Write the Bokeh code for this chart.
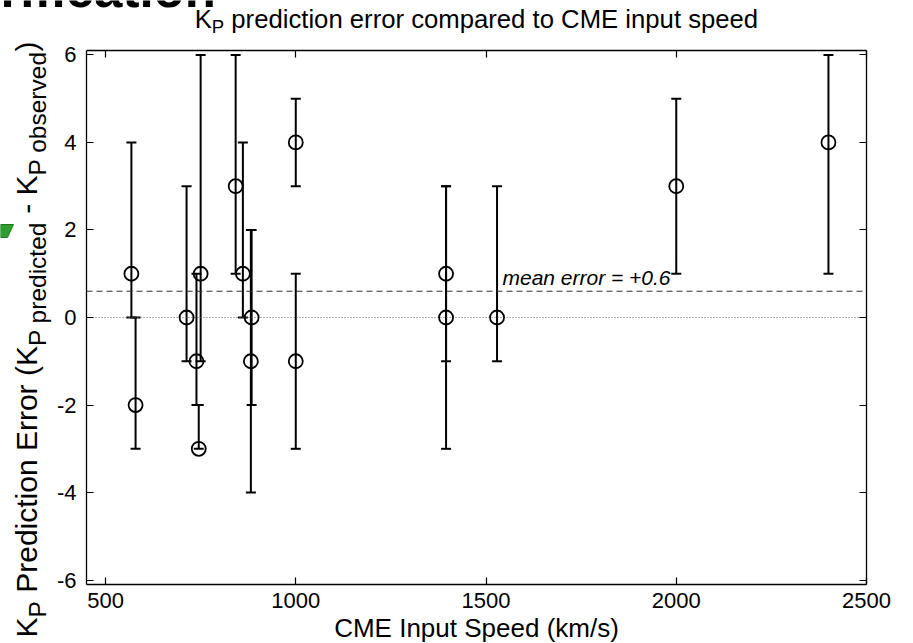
from bokeh.plotting import figure
from bokeh.models import (ColumnDataSource, Whisker, TeeHead, Label,
                          LinearAxis, FixedTicker, Range1d)
from bokeh.embed import file_html
from bokeh.resources import INLINE
from math import pi

# ---------------- data ----------------
speed = [568, 579, 713, 739, 745, 750, 842, 861, 882, 884, 1000, 1000,
         1395, 1395, 1529, 2000, 2400]
kp_error = [1, -2, 0, -1, -3, 1, 3, 1, -1, 0, 4, -1, 1, 0, 0, 3, 4]
err_low = [0, -3, -1, -2, -3, -1, 1, 0, -4, -2, 3, -3, -1, -3, -1, 1, 1]
err_high = [4, 0, 3, 1, -2, 6, 6, 4, 2, 2, 5, 1, 3, 3, 3, 5, 6]
mean_error = 0.6
mean_label = "mean error = +0.6"
mean_label_x = 1985
x_ticks = [500, 1000, 1500, 2000, 2500]
y_ticks = [-6, -4, -2, 0, 2, 4, 6]
X_MIN, X_MAX = 450, 2500
Y_MIN, Y_MAX = -6.1, 6.1
title_parts = [("K", 0), ("P", 1), (" prediction error compared to CME input speed", 0)]
ylabel_parts = [("K", 0), ("P", 1), (" Prediction Error (K", 0), ("P predicted", 1),
                (" - K", 0), ("P observed", 1), (")", 0)]
xlabel = "CME Input Speed (km/s)"
slide_text = "rification"

# ---------------- layout (pixels) ----------------
W, H = 913, 643
BOX_L, BOX_R, BOX_T, BOX_B = 86, 866, 50, 584
FONT = "Liberation Sans"
BASE_SHIFT = 0.38   # label anchor sits this fraction of the font size above the baseline

kx = (BOX_R - BOX_L) / (X_MAX - X_MIN)
ky = (BOX_B - BOX_T) / (Y_MAX - Y_MIN)
x_start = X_MIN - BOX_L / kx
x_end = X_MAX + (W - BOX_R) / kx
y_end = Y_MAX + BOX_T / ky
y_start = Y_MIN - (H - BOX_B) / ky


def dx(px):
    return x_start + px / kx


def dy(py):
    return y_end - py / ky


HW = {' ': 278, '(': 333, ')': 333, '-': 333, '.': 278, '/': 278, '=': 584, '+': 584,
      'A': 667, 'C': 722, 'E': 667, 'I': 278, 'K': 667, 'M': 833, 'P': 667, 'S': 667,
      'a': 556, 'b': 556, 'c': 500, 'd': 556, 'e': 556, 'f': 278, 'g': 556, 'h': 556,
      'i': 222, 'k': 500, 'l': 222, 'm': 833, 'n': 556, 'o': 556, 'p': 556, 'r': 333,
      's': 500, 't': 278, 'u': 556, 'v': 500, 'w': 722, 'x': 500, 'y': 500}


def tw(s, size):
    return sum(HW.get(c, 556) for c in s) / 1000.0 * size


p = figure(width=W, height=H, output_backend="svg", toolbar_location=None,
           x_range=Range1d(x_start, x_end), y_range=Range1d(y_start, y_end),
           x_axis_location=None, y_axis_location=None, min_border=0,
           background_fill_color="white", border_fill_color="white")
p.outline_line_color = None
p.grid.visible = False


def make_axis(ticks, loc, bounds, labels, standoff):
    return LinearAxis(ticker=FixedTicker(ticks=ticks), fixed_location=loc, bounds=bounds,
                      major_tick_in=7, major_tick_out=0, minor_tick_line_color=None,
                      axis_line_color="black", axis_line_width=1.3,
                      major_tick_line_color="black", major_tick_line_width=1.2,
                      major_label_overrides={t: (str(t) if labels else "") for t in ticks},
                      major_label_text_font=FONT, major_label_text_font_size="22px",
                      major_label_text_color="black", major_label_standoff=standoff)


p.add_layout(make_axis(x_ticks, Y_MIN, (X_MIN, X_MAX), True, 8), "below")
p.add_layout(make_axis(y_ticks, X_MIN, (Y_MIN, Y_MAX), True, 10), "left")
p.add_layout(make_axis(x_ticks, Y_MAX, (X_MIN, X_MAX), False, 0), "above")
p.add_layout(make_axis(y_ticks, X_MAX, (Y_MIN, Y_MAX), False, 0), "right")

# reference lines across the plot box
p.segment(x0=[X_MIN], y0=[0], x1=[X_MAX], y1=[0], line_color="#666666",
          line_dash="1 2", line_width=1)
p.segment(x0=[X_MIN], y0=[mean_error], x1=[X_MAX], y1=[mean_error],
          line_color="#333333", line_dash="6 4", line_width=1.2)

src = ColumnDataSource(dict(x=speed, y=kp_error, lo=err_low, hi=err_high))
p.add_layout(Whisker(base="x", lower="lo", upper="hi", source=src,
                     line_color="black", line_width=2,
                     upper_head=TeeHead(size=10, line_width=2, line_color="black"),
                     lower_head=TeeHead(size=10, line_width=2, line_color="black")))
p.scatter("x", "y", source=src, marker="circle", size=14, fill_color=None,
          line_color="black", line_width=1.8)

MEAN_SIZE = 21
p.add_layout(Label(x=mean_label_x, y=mean_error, text=mean_label, text_align="right",
                   text_baseline="alphabetic", y_offset=6 + BASE_SHIFT * MEAN_SIZE,
                   text_font=FONT, text_font_style="italic",
                   text_font_size=f"{MEAN_SIZE}px", text_color="black"))


def add_text(px, py, text, size, angle=0.0, style="normal", align="left"):
    """(px, py): where the text's baseline starts, in canvas pixels."""
    lead = len(text) - len(text.lstrip(" "))
    adv = tw(" " * lead, size)
    sh = BASE_SHIFT * size
    if angle == 0.0:
        px, py = px + adv, py - sh
    else:  # rotated a quarter turn, reading bottom to top
        px, py = px - sh, py - adv
    p.add_layout(Label(x=dx(px), y=dy(py), text=text.lstrip(" "), angle=angle,
                       text_align=align, text_baseline="alphabetic", text_font=FONT,
                       text_font_size=f"{size}px", text_font_style=style,
                       text_color="black"))


cx = (BOX_L + BOX_R) / 2.0

# title (centered on the plot box)
T_MAIN, T_SUB = 25.7, 18.5
total = sum(tw(t, T_SUB if s else T_MAIN) for t, s in title_parts)
x0 = cx - total / 2.0
for t, s in title_parts:
    size = T_SUB if s else T_MAIN
    add_text(x0, 33 if s else 28, t, size)
    x0 += tw(t, size)

# x axis title
add_text(cx, 637, xlabel, 26, align="center")

# y axis title (rotated, reading bottom to top)
Y_MAIN, Y_SUB = 30, 24.5
y0 = 637
for t, s in ylabel_parts:
    size = Y_SUB if s else Y_MAIN
    add_text(46 if s else 37, y0, t, size, angle=pi / 2)
    y0 -= tw(t, size)

# cut-off slide heading at the top-left and the tip of a green arrow
add_text(0, 8, slide_text, 51, style="bold")
p.patch(x=[dx(0), dx(13), dx(7), dx(0)], y=[dy(224), dy(224), dy(237), dy(237)],
        fill_color="#2e9e2e", line_color="#1f7a1f", line_width=1)

open("out.html", "w").write(file_html(p, INLINE))
